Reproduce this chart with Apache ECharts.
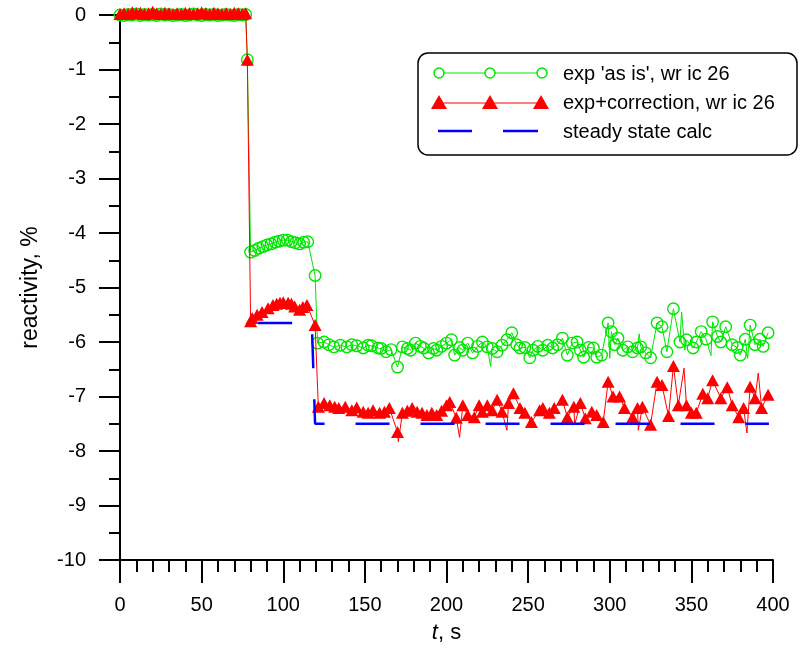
<!DOCTYPE html>
<html>
<head>
<meta charset="utf-8">
<script src="https://cdn.jsdelivr.net/npm/echarts@6/dist/echarts.min.js"></script>
<style>
html,body{margin:0;padding:0;background:#fff;}
#chart{width:805px;height:649px;}
</style>
</head>
<body>
<div id="chart"></div>
<script>
// ---- data ----
const xTicks = [0, 50, 100, 150, 200, 250, 300, 350, 400];
const yTicks = [0, -1, -2, -3, -4, -5, -6, -7, -8, -9, -10];

// exp 'as is' (marker points)
const greenMarks = [
 [0,0.0],[2.5,-0.01],[5,0.01],[7.5,0],[10,0.02],[12.5,-0.01],[15,0.01],[17.5,0],[20,0.01],[22.5,-0.01],
 [25,0.02],[27.5,0],[30,0.01],[32.5,-0.01],[35,0],[37.5,0.01],[40,-0.01],[42.5,0],[45,0.02],[47.5,0],
 [50,-0.01],[52.5,0.01],[55,0],[57.5,0.01],[60,-0.01],[62.5,0],[65,0.01],[67.5,0],[70,-0.01],[72.5,0.01],
 [75,0],[77,0.01],[78,-0.82],
 [80,-4.35],[82.5,-4.32],[85,-4.28],[87.5,-4.25],[90,-4.22],[92.5,-4.2],[95,-4.17],[97.5,-4.15],[100,-4.13],
 [102.5,-4.13],[105,-4.16],[107.5,-4.18],[110,-4.2],[112.5,-4.17],[115,-4.16],[119.5,-4.78],
 [121,-6.02],[125,-6.0],[128,-6.05],[131,-6.09],[135,-6.06],[139,-6.09],[142,-6.05],[145,-6.07],[149,-6.11],
 [152,-6.06],[154,-6.07],[158,-6.11],[160,-6.12],[163,-6.18],[166,-6.14],[170,-6.46],[173,-6.09],[176,-6.12],
 [178,-6.15],[181,-6.02],[184,-6.08],[186,-6.11],[189,-6.2],[192,-6.12],[194,-6.15],[197,-6.08],[200,-6.02],
 [203,-5.96],[205,-6.24],[208,-6.1],[210,-6.15],[213,-6.02],[216,-6.2],[219,-6.08],[222,-6.0],[225,-6.09],
 [228,-6.12],[231,-6.18],[234,-6.06],[237,-5.96],[240,-5.83],[243,-6.05],[245,-6.11],[248,-6.1],[251,-6.29],
 [253,-6.15],[256,-6.08],[259,-6.15],[262,-6.06],[265,-6.11],[268,-6.05],[271,-5.93],[274,-6.24],[277,-6.02],
 [280,-6.0],[282,-6.15],[284,-6.28],[287,-6.1],[290,-6.11],[292,-6.28],[295,-6.24],[299,-5.65],[301,-5.81],
 [303,-6.05],[305,-5.93],[308,-6.15],[311,-6.09],[314,-6.18],[317,-6.11],[319,-6.09],[322,-6.2],[325,-6.29],
 [329,-5.65],[332,-5.72],[335,-6.18],[339,-5.39],[343,-6.0],[347,-5.96],[351,-6.11],[353,-6.0],[356,-5.81],
 [359,-5.95],[363,-5.63],[366,-5.9],[368,-6.0],[371,-5.72],[375,-6.05],[378,-6.1],[380,-6.24],[383,-5.95],
 [386,-5.69],[389,-6.05],[392,-5.95],[394,-6.08],[397,-5.83]
];
// exp 'as is' (line-only points between markers)
const greenSpikes = [
 [227,-6.45],[300,-6.3],[318,-5.85],[344,-5.45],[346,-6.15],[362,-6.25],[384.5,-6.3]
];

// exp+correction (marker points)
const redMarks = [
 [0,0.02],[2.5,0.03],[5,0.02],[7.5,0.05],[10,0.03],[12.5,0.04],[15,0.02],[17.5,0.03],[20,0.06],[22.5,0.03],
 [25,0.02],[27.5,0.04],[30,0.03],[32.5,0.02],[35,0.03],[37.5,0.02],[40,0.04],[42.5,0.03],[45,0.02],[47.5,0.03],
 [50,0.05],[52.5,0.03],[55,0.02],[57.5,0.04],[60,0.03],[62.5,0.02],[65,0.03],[67.5,0.02],[70,0.04],[72.5,0.03],
 [75,0.02],[77,0.03],[78,-0.82],
 [80,-5.62],[81,-5.56],[84,-5.5],[87,-5.45],[90.7,-5.38],[93.7,-5.32],[96,-5.3],[98,-5.28],[100,-5.27],
 [103,-5.28],[105,-5.3],[107,-5.35],[110,-5.41],[112,-5.36],[114.5,-5.32],[119.5,-5.69],
 [121.5,-7.19],[125,-7.12],[128.5,-7.16],[131.5,-7.19],[134,-7.21],[138,-7.19],[142,-7.25],[145,-7.2],
 [149,-7.28],[152,-7.3],[155,-7.25],[159,-7.3],[162,-7.28],[165,-7.21],[170,-7.65],[173,-7.3],[176,-7.26],
 [179,-7.21],[182,-7.28],[185,-7.3],[188,-7.34],[191,-7.3],[194,-7.34],[197,-7.26],[200,-7.16],[202,-7.1],
 [206,-7.39],[210,-7.16],[213,-7.34],[217,-7.38],[220,-7.16],[222,-7.28],[225,-7.16],[228,-7.25],[231,-7.06],
 [234,-7.28],[238,-7.12],[241,-6.94],[245,-7.21],[248,-7.3],[252,-7.47],[257,-7.25],[259,-7.21],[263,-7.3],
 [266,-7.21],[271,-7.06],[274,-7.38],[278,-7.19],[282,-7.12],[285,-7.4],[289,-7.28],[292,-7.34],[296,-7.47],
 [299,-6.73],[302,-7.0],[306,-7.0],[309,-7.21],[314,-7.38],[317,-7.21],[320,-7.19],[325,-7.52],[329,-6.73],
 [332,-6.79],[336,-7.36],[339,-6.44],[342,-7.16],[347,-7.16],[350,-7.3],[353,-7.3],[357,-6.95],[360,-7.03],
 [363,-6.7],[368,-7.03],[372,-6.83],[375,-7.16],[379,-7.38],[382,-7.21],[386,-6.82],[389,-7.03],[393,-7.21],
 [397,-6.97]
];
// exp+correction (line-only points between markers)
const redSpikes = [
 [170.5,-7.83],[208,-7.75],[237,-7.62],[278.5,-7.52],[317.5,-7.62],[345.5,-6.48],[384,-7.67],[391,-6.57]
];

// steady state calc
const steadyT = [78.5, 117.5, 119.5, 397.5];
const steadyV = [-5.65, -5.65, -7.5, -7.5];

const legendNames = ["exp 'as is', wr ic 26", "exp+correction, wr ic 26", "steady state calc"];

// ---- build series data ----
function merge(marks, spikes) {
  const all = marks.map(p => ({ value: p }))
    .concat(spikes.map(p => ({ value: p, symbol: 'none' })));
  all.sort((a, b) => a.value[0] - b.value[0]);
  return all;
}
const GREEN = '#00e600', RED = '#ff0000', BLUE = '#0000ff';
const FONT = 'Liberation Sans';

const chart = echarts.init(document.getElementById('chart'));

// legend drawn as graphic (three sample symbols per row like the original)
const lg = [];
lg.push({ type: 'rect', shape: { x: 418, y: 53, width: 379, height: 102, r: 10 },
  style: { fill: '#fff', stroke: '#000', lineWidth: 1.5 }, z: 10 });
lg.push({ type: 'line', shape: { x1: 439, y1: 73, x2: 542, y2: 73 }, style: { stroke: GREEN, lineWidth: 1 }, z: 11 });
[439, 490, 542].forEach(cx => lg.push({ type: 'circle', shape: { cx: cx, cy: 73, r: 5 },
  style: { fill: '#fff', stroke: GREEN, lineWidth: 1.5 }, z: 12 }));
lg.push({ type: 'line', shape: { x1: 439, y1: 103, x2: 541, y2: 103 }, style: { stroke: RED, lineWidth: 1 }, z: 11 });
[439, 490, 541].forEach(cx => lg.push({ type: 'polygon',
  shape: { points: [[cx, 95], [cx - 8, 109], [cx + 8, 109]] }, style: { fill: RED }, z: 12 }));
lg.push({ type: 'line', shape: { x1: 438, y1: 131, x2: 472, y2: 131 }, style: { stroke: BLUE, lineWidth: 2.5 }, z: 11 });
lg.push({ type: 'line', shape: { x1: 503, y1: 131, x2: 538, y2: 131 }, style: { stroke: BLUE, lineWidth: 2.5 }, z: 11 });
[74, 103, 132].forEach((y, i) => lg.push({ type: 'text', x: 563, y: y, z: 12,
  style: { text: legendNames[i], font: '20px "' + FONT + '"', fill: '#000', verticalAlign: 'middle' } }));

const option = {
  animation: false,
  backgroundColor: '#fff',
  grid: { left: 120, right: 32, top: 15, bottom: 89, containLabel: false },
  xAxis: {
    type: 'value', min: 0, max: 400, interval: 50,
    name: '{i|t}, s', nameLocation: 'middle', nameGap: 62,
    nameTextStyle: { fontFamily: FONT, fontSize: 22, color: '#000',
      rich: { i: { fontStyle: 'italic', fontFamily: FONT, fontSize: 22, color: '#000' } } },
    axisLine: { onZero: false, lineStyle: { color: '#000', width: 2 } },
    axisTick: { show: true, inside: false, length: 23, lineStyle: { color: '#000', width: 2 } },
    minorTick: { show: true, splitNumber: 5, length: 12, lineStyle: { color: '#000', width: 2 } },
    splitLine: { show: false },
    axisLabel: { margin: 35, fontFamily: FONT, fontSize: 20, color: '#000',
      formatter: v => (xTicks.indexOf(v) >= 0 ? String(v) : '') }
  },
  yAxis: {
    type: 'value', min: -10, max: 0, interval: 1,
    name: 'reactivity, %', nameLocation: 'middle', nameGap: 78,
    nameTextStyle: { fontFamily: FONT, fontSize: 23, color: '#000' },
    axisLine: { onZero: false, lineStyle: { color: '#000', width: 2 } },
    axisTick: { show: true, inside: false, length: 21, lineStyle: { color: '#000', width: 2 } },
    minorTick: { show: true, splitNumber: 2, length: 11, lineStyle: { color: '#000', width: 2 } },
    splitLine: { show: false },
    axisLabel: { margin: 34, fontFamily: FONT, fontSize: 20, color: '#000',
      formatter: v => (yTicks.indexOf(v) >= 0 ? String(v) : '') }
  },
  series: [
    {
      name: legendNames[0], type: 'line', data: merge(greenMarks, greenSpikes), clip: false,
      symbol: 'circle', symbolSize: 11.5, showAllSymbol: true,
      itemStyle: { color: 'rgba(0,0,0,0)', borderColor: GREEN, borderWidth: 1.4 },
      lineStyle: { color: GREEN, width: 1 }, emphasis: { disabled: true }, z: 2
    },
    {
      name: legendNames[1], type: 'line', data: merge(redMarks, redSpikes), clip: false,
      symbol: 'triangle', symbolSize: [13, 12], showAllSymbol: true,
      itemStyle: { color: RED }, lineStyle: { color: RED, width: 1 },
      emphasis: { disabled: true }, z: 3
    },
    {
      name: legendNames[2], type: 'line', data: steadyT.map((t, i) => [t, steadyV[i]]),
      symbol: 'none', lineStyle: { color: BLUE, width: 2.5, type: [34, 31], dashOffset: 55 },
      emphasis: { disabled: true }, z: 4
    }
  ],
  graphic: lg
};
chart.setOption(option);
</script>
</body>
</html>
